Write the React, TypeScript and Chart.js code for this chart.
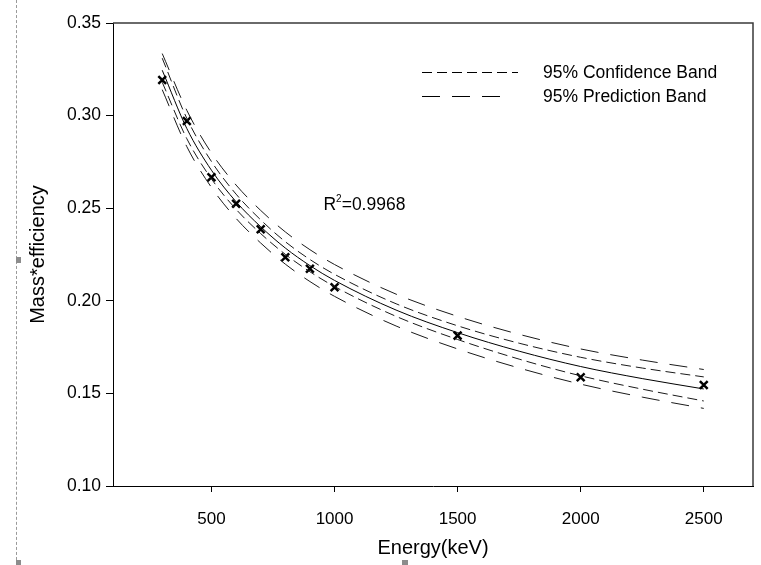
import React, { useEffect, useRef } from "react";
import { Chart, registerables } from "chart.js";

Chart.register(...registerables);

// Measured points
const energy = [300, 400, 500, 600, 700, 800, 900, 1000, 1500, 2000, 2500];
const massEff = [0.3192, 0.2971, 0.2667, 0.2524, 0.2386, 0.2235, 0.2173, 0.2073, 0.1812, 0.1587, 0.1545];

// Fitted curve and bands
const curveEnergy = [300, 400, 500, 600, 700, 800, 900, 1000, 1250, 1500, 1750, 2000, 2250, 2500];
const fitValues = [0.3245, 0.293, 0.2705, 0.2535, 0.24, 0.2285, 0.219, 0.211, 0.195, 0.1828, 0.1728, 0.1645, 0.158, 0.1524];
const confUpper = [0.331, 0.2985, 0.2752, 0.2576, 0.2437, 0.2319, 0.2223, 0.2143, 0.1984, 0.1865, 0.1771, 0.1695, 0.1637, 0.1589];
const confLower = [0.318, 0.2875, 0.2658, 0.2494, 0.2363, 0.2251, 0.2157, 0.2077, 0.1916, 0.1791, 0.1685, 0.1595, 0.1523, 0.1459];
const predUpper = [0.3335, 0.3028, 0.2798, 0.2625, 0.2488, 0.2372, 0.2276, 0.2196, 0.2036, 0.1916, 0.1819, 0.174, 0.168, 0.1629];
const predLower = [0.314, 0.2832, 0.2612, 0.2445, 0.2312, 0.2198, 0.2104, 0.2024, 0.1864, 0.174, 0.1637, 0.155, 0.148, 0.1419];

const xTicks = [500, 1000, 1500, 2000, 2500];
const yTicks = [0.1, 0.15, 0.2, 0.25, 0.3, 0.35];

const legendLabels = ["95% Confidence Band", "95% Prediction Band"];
const r2Label = { pre: "R", sup: "2", post: "=0.9968", atEnergy: 955, atValue: 0.2523 };

const FONT = "'Liberation Sans', Arial, sans-serif";
const CONF_DASH = [10, 5];
const PRED_DASH = [18, 12];

const toXY = (xs: number[], ys: number[]) => xs.map((x, i) => ({ x, y: ys[i] }));

const decorPlugin = {
  id: "decor",
  afterDraw(chart: any) {
    const { ctx, chartArea, scales } = chart;
    ctx.save();
    // top & right frame
    ctx.strokeStyle = "#3a3a3a";
    ctx.lineWidth = 1.5;
    ctx.setLineDash([]);
    ctx.beginPath();
    ctx.moveTo(chartArea.left, chartArea.top);
    ctx.lineTo(chartArea.right, chartArea.top);
    ctx.lineTo(chartArea.right, chartArea.bottom);
    ctx.stroke();

    // legend
    ctx.strokeStyle = "#000";
    ctx.lineWidth = 1;
    ctx.fillStyle = "#000";
    ctx.font = `17.5px ${FONT}`;
    ctx.textBaseline = "middle";
    ctx.textAlign = "left";
    const rows = [
      { y: 72, x1: 422, x2: 518, dash: CONF_DASH },
      { y: 96, x1: 422, x2: 510, dash: PRED_DASH },
    ];
    rows.forEach((r, i) => {
      ctx.setLineDash(r.dash);
      ctx.beginPath();
      ctx.moveTo(r.x1, r.y + 0.5);
      ctx.lineTo(r.x2, r.y + 0.5);
      ctx.stroke();
      ctx.setLineDash([]);
      ctx.fillText(legendLabels[i], 543, r.y + 1);
    });

    // R^2 annotation
    const px = scales.x.getPixelForValue(r2Label.atEnergy);
    const py = scales.y.getPixelForValue(r2Label.atValue);
    ctx.textBaseline = "alphabetic";
    ctx.font = `17.5px ${FONT}`;
    ctx.fillText(r2Label.pre, px, py + 6);
    const w1 = ctx.measureText(r2Label.pre).width;
    ctx.font = `10px ${FONT}`;
    ctx.fillText(r2Label.sup, px + w1, py - 2);
    const w2 = ctx.measureText(r2Label.sup).width;
    ctx.font = `17.5px ${FONT}`;
    ctx.fillText(r2Label.post, px + w1 + w2, py + 6);
    ctx.restore();
  },
};

export default function App() {
  const ref = useRef<HTMLCanvasElement | null>(null);

  useEffect(() => {
    if (!ref.current) return;
    const lineBase = {
      type: "line" as const,
      showLine: true,
      pointRadius: 0,
      borderColor: "#1a1a1a",
      borderWidth: 1,
      fill: false,
      cubicInterpolationMode: "monotone" as const,
    };
    const chart = new Chart(ref.current, {
      type: "scatter",
      data: {
        datasets: [
          { ...lineBase, label: "fit", data: toXY(curveEnergy, fitValues), borderColor: "#000" },
          { ...lineBase, label: "confU", data: toXY(curveEnergy, confUpper), borderDash: CONF_DASH },
          { ...lineBase, label: "confL", data: toXY(curveEnergy, confLower), borderDash: CONF_DASH },
          { ...lineBase, label: "predU", data: toXY(curveEnergy, predUpper), borderDash: PRED_DASH },
          { ...lineBase, label: "predL", data: toXY(curveEnergy, predLower), borderDash: PRED_DASH },
          {
            type: "scatter" as const,
            label: "data",
            data: toXY(energy, massEff),
            pointStyle: "crossRot",
            pointRadius: 5.5,
            borderColor: "#000",
            borderWidth: 2.5,
            showLine: false,
          },
        ],
      },
      options: {
        animation: false,
        responsive: false,
        layout: { padding: { left: 0, right: 7, top: 23, bottom: 0 } },
        plugins: { legend: { display: false }, tooltip: { enabled: false } },
        scales: {
          x: {
            type: "linear",
            min: 100,
            max: 2700,
            afterBuildTicks: (s: any) => {
              s.ticks = xTicks.map((v) => ({ value: v }));
            },
            afterFit: (s: any) => {
              s.height = 79;
            },
            border: { display: true, color: "#000", width: 1 },
            grid: { drawOnChartArea: false, drawTicks: true, tickLength: 6, color: "#000" },
            ticks: {
              color: "#000",
              font: { family: FONT, size: 17 },
              padding: 17,
              maxRotation: 0,
              callback: (v: any) => String(v),
            },
            title: {
              display: true,
              text: "Energy(keV)",
              color: "#000",
              font: { family: FONT, size: 20 },
              padding: { top: 0, bottom: 5 },
            },
          },
          y: {
            type: "linear",
            min: 0.1,
            max: 0.35,
            afterBuildTicks: (s: any) => {
              s.ticks = yTicks.map((v) => ({ value: v }));
            },
            afterFit: (s: any) => {
              s.width = 113;
            },
            border: { display: true, color: "#000", width: 1 },
            grid: { drawOnChartArea: false, drawTicks: true, tickLength: 7, color: "#000" },
            ticks: {
              color: "#000",
              font: { family: FONT, size: 17.5 },
              padding: 5,
              callback: (v: any) => Number(v).toFixed(2),
            },
            title: {
              display: true,
              text: "Mass*efficiency",
              color: "#000",
              font: { family: FONT, size: 20 },
              padding: { top: 26, bottom: 0 },
            },
          },
        },
      },
      plugins: [decorPlugin],
    });
    return () => chart.destroy();
  }, []);

  return (
    <div style={{ position: "fixed", left: 0, top: 0, width: 761, height: 565, background: "#fff", overflow: "hidden" }}>
      <canvas ref={ref} width={761} height={565} style={{ position: "absolute", left: 0, top: 0, width: 761, height: 565 }} />
      <div style={{ position: "absolute", left: 16, top: 0, width: 0, height: 565, borderLeft: "1px dashed #9a9a9a" }} />
      <div style={{ position: "absolute", left: 16, top: 257, width: 5, height: 6, background: "#8c8c8c" }} />
      <div style={{ position: "absolute", left: 16, top: 560, width: 5, height: 5, background: "#8c8c8c" }} />
      <div style={{ position: "absolute", left: 402, top: 560, width: 6, height: 5, background: "#8c8c8c" }} />
    </div>
  );
}
